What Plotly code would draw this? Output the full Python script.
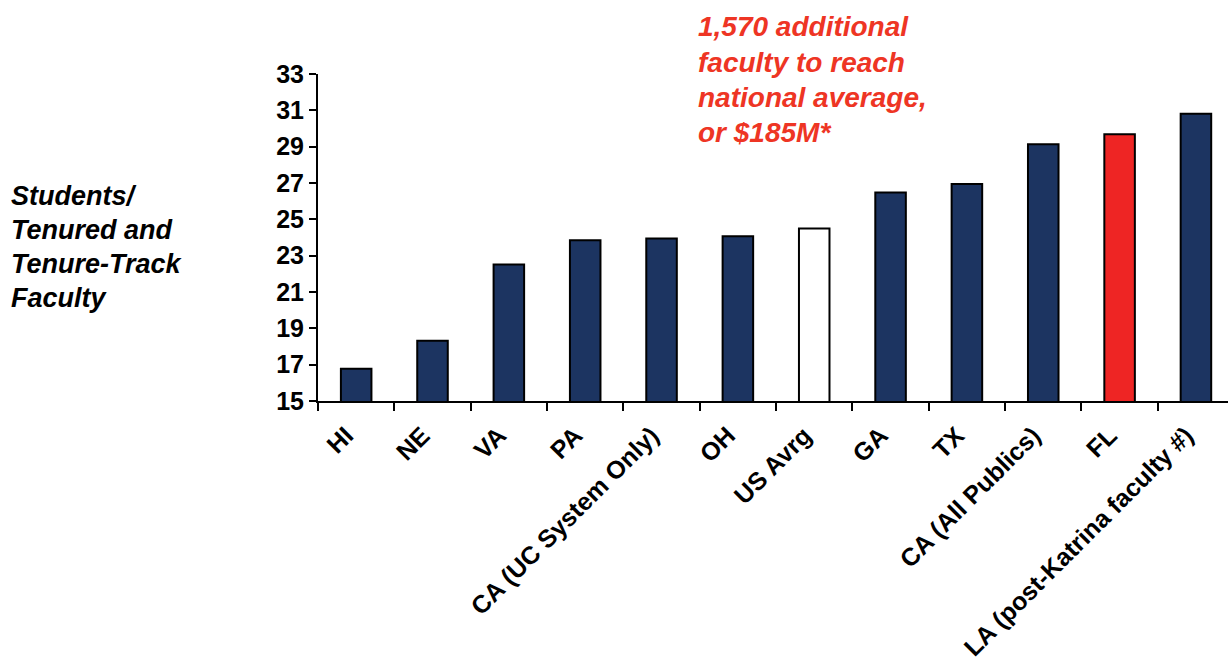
import plotly.graph_objects as go

categories = ["HI", "NE", "VA", "PA", "CA (UC System Only)", "OH", "US Avrg",
              "GA", "TX", "CA (All Publics)", "FL", "LA (post-Katrina faculty #)"]
values = [16.78, 18.32, 22.52, 23.85, 23.94, 24.07, 24.49,
          26.48, 26.94, 29.13, 29.69, 30.81]
bar_colors = ["#1C3461"] * 6 + ["#FFFFFF"] + ["#1C3461"] * 3 + ["#EE2524"] + ["#1C3461"]
y_title_lines = ["Students/", "Tenured and", "Tenure-Track", "Faculty"]
note_lines = ["1,570 additional", "faculty to reach", "national average,", "or $185M*"]

W, H = 1228, 671
L, R, T, B = 318, 0, 74, 270
pw, ph = W - L - R, H - T - B

def px_x(x):
    return (x - L) / pw

def px_y(y):
    return (H - B - y) / ph

fig = go.Figure()
fig.add_trace(go.Bar(
    x=categories, y=values,
    marker=dict(color=bar_colors, line=dict(color="#000000", width=2)),
))

annotations = []
for i, line in enumerate(y_title_lines):
    annotations.append(dict(
        text="<b><i>" + line + "</i></b>", xref="paper", yref="paper",
        x=px_x(9), y=px_y(196 + 34 * i), xanchor="left", yanchor="middle",
        showarrow=False, font=dict(family="Liberation Sans, Arial", size=27, color="#000000")))
for i, line in enumerate(note_lines):
    annotations.append(dict(
        text="<b><i>" + line + "</i></b>", xref="paper", yref="paper",
        x=px_x(696), y=px_y(27 + 35 * i), xanchor="left", yanchor="middle",
        showarrow=False, font=dict(family="Liberation Sans, Arial", size=28, color="#EE3524")))

fig.update_layout(
    width=W, height=H, autosize=False,
    margin=dict(l=L, r=R, t=T, b=B, pad=0, autoexpand=False),
    paper_bgcolor="white", plot_bgcolor="white",
    bargap=0.6, showlegend=False,
    font=dict(family="Liberation Sans, Arial", color="#000000"),
    annotations=annotations,
    xaxis=dict(
        type="category", range=[-0.5, 11.42], automargin=False,
        showline=True, linecolor="#000000", linewidth=2,
        ticks="outside", tickson="boundaries", ticklen=8, tickwidth=2, tickcolor="#000000",
        tickangle=-45, showgrid=False, zeroline=False,
        ticklabelstandoff=8, ticklabelshift=-10,
        tickfont=dict(family="Liberation Sans, Arial", size=25, color="#000000", weight="bold"),
    ),
    yaxis=dict(
        range=[15, 33], tick0=15, dtick=2, automargin=False,
        showline=True, linecolor="#000000", linewidth=2,
        ticks="outside", ticklen=7, tickwidth=2, tickcolor="#000000",
        showgrid=False, zeroline=False,
        tickfont=dict(family="Liberation Sans, Arial", size=25, color="#000000", weight="bold"),
    ),
)

fig.write_html("out.html")
